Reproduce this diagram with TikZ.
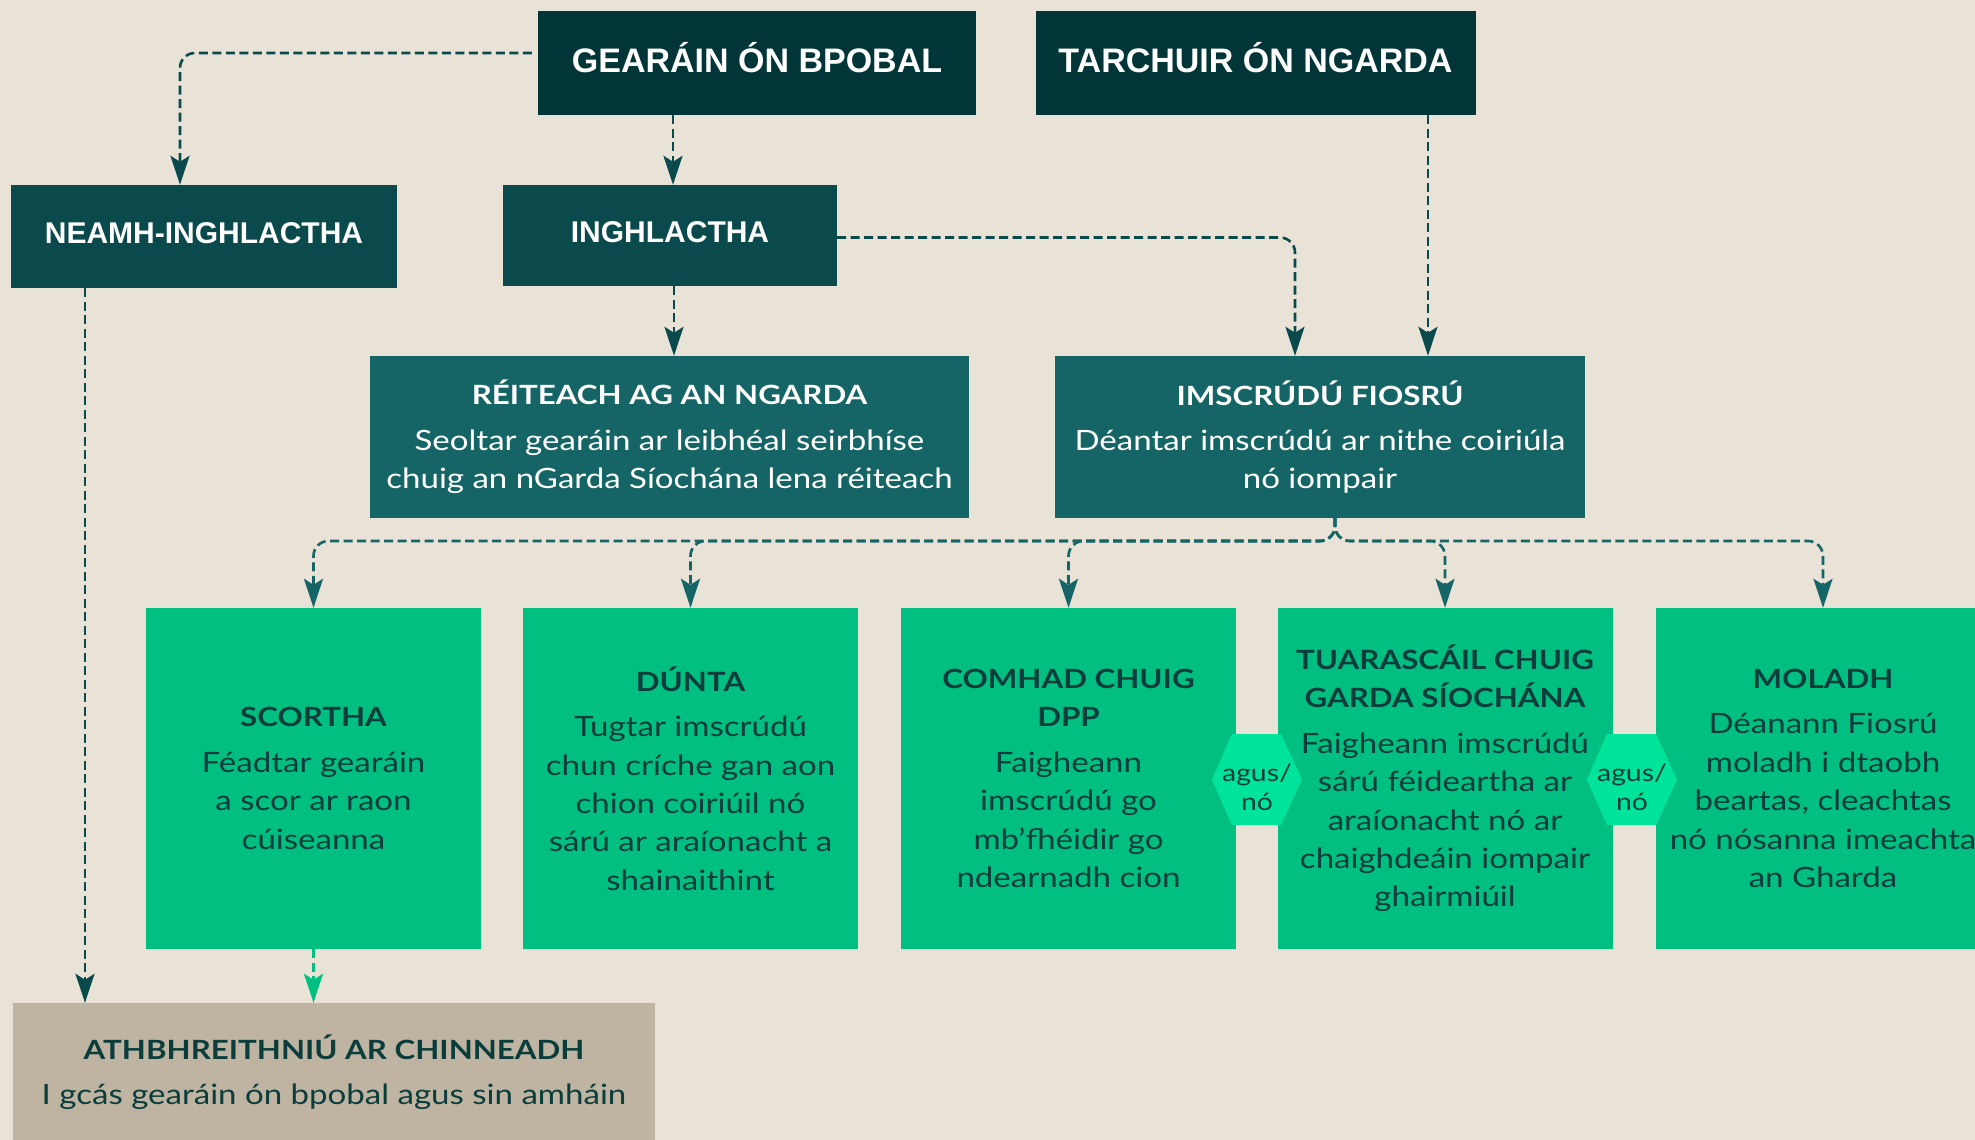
\documentclass[tikz,border=0pt]{standalone}
\usepackage{fontspec}
\setmainfont{Lato}[FakeStretch=1.18]
\newfontfamily\hfont{Liberation Sans}
\usetikzlibrary{arrows.meta}
\definecolor{bg}{HTML}{E8E2D7}
\definecolor{dkA}{HTML}{013538}
\definecolor{dkB}{HTML}{0A4A4C}
\definecolor{dkC}{HTML}{166566}
\definecolor{grn}{HTML}{00BF80}
\definecolor{hexg}{HTML}{00E39A}
\definecolor{tanbox}{HTML}{BFB4A2}
\definecolor{txtd}{HTML}{0A3D3B}
\newcommand\ttl[1]{{\fontsize{26.5}{38.4}\selectfont\bfseries #1}}
\tikzset{
  box/.style={inner sep=0pt, align=center},
  topbox/.style={box, fill=dkA, text=white, text height=24pt, text depth=5pt, font=\hfont\fontsize{34}{40}\selectfont\bfseries},
  midbox/.style={box, fill=dkB, text=white, text height=21.5pt, text depth=8pt, font=\hfont\fontsize{30}{38}\selectfont\bfseries},
  lowbox/.style={box, fill=dkC, text=white, font=\fontsize{28}{38.4}\selectfont},
  grnbox/.style={box, fill=grn, text=txtd, minimum width=335pt, minimum height=341pt, font=\fontsize{28}{38.4}\selectfont},
  hexlabel/.style={box, text=txtd, font=\fontsize{24}{29}\selectfont},
  conn/.style={draw=dkB, line width=2.6pt, dash pattern=on 9pt off 4.5pt, rounded corners=15pt,
    -{Stealth[length=29pt,width=19pt,inset=6pt]}},
  fan/.style={conn, draw=dkC, fill=none},
  grnconn/.style={conn, draw=grn},
}
\begin{document}
\begin{tikzpicture}[x=1pt,y=-1pt]
\useasboundingbox (0,0) rectangle (1975,1140);
\clip (0,0) rectangle (1975,1140);
\fill[bg] (0,0) rectangle (1975,1140);

% top row
\node[topbox, minimum width=438pt, minimum height=104pt] (gearain) at (757,63) {GEARÁIN ÓN BPOBAL};
\node[topbox, minimum width=440pt, minimum height=104pt] (tarchuir) at (1255.5,63) {TARCHUIR ÓN NGARDA};

% second row
\node[midbox, minimum width=386pt, minimum height=103pt] (neamh) at (204,236.5) {NEAMH-INGHLACTHA};
\node[midbox, minimum width=334pt, minimum height=101pt] (inghl) at (670,235.5) {INGHLACTHA};

% third row
\node[lowbox, minimum width=599pt, minimum height=162pt] (reiteach) at (669.5,437)
  {\ttl{RÉITEACH AG AN NGARDA}\\[7pt]Seoltar gearáin ar leibhéal seirbhíse\\chuig an nGarda Síochána lena réiteach};
\node[lowbox, minimum width=530pt, minimum height=162pt] (imscrudu) at (1320,437)
  {\ttl{IMSCRÚDÚ FIOSRÚ}\\[7pt]Déantar imscrúdú ar nithe coiriúla\\nó iompair};

% green row
\node[grnbox] (scortha) at (313.5,778.5)
  {\ttl{SCORTHA}\\[7pt]Féadtar gearáin\\a scor ar raon\\cúiseanna};
\node[grnbox] (dunta) at (690.5,778.5)
  {\ttl{DÚNTA}\\[7pt]Tugtar imscrúdú\\chun críche gan aon\\chion coiriúil nó\\sárú ar araíonacht a\\shainaithint};
\node[grnbox] (comhad) at (1068.5,778.5)
  {\ttl{COMHAD CHUIG}\\\ttl{DPP}\\[7pt]Faigheann\\imscrúdú go\\mb’fhéidir go\\ndearnadh cion};
\node[grnbox] (tuarascail) at (1445,778.5)
  {\ttl{TUARASCÁIL CHUIG}\\\ttl{GARDA SÍOCHÁNA}\\[7pt]Faigheann imscrúdú\\sárú féideartha ar\\araíonacht nó ar\\chaighdeáin iompair\\ghairmiúil};
\node[grnbox] (moladh) at (1823,778.5)
  {\ttl{MOLADH}\\[7pt]Déanann Fiosrú\\moladh i dtaobh\\beartas, cleachtas\\nó nósanna imeachta\\an Gharda};

% hexagons
\fill[hexg] (1212,779.5) -- (1232,734) -- (1281,734) -- (1302,779.5) -- (1281,825) -- (1232,825) -- cycle;
\node[hexlabel] (hexA) at (1257,787) {agus/\\nó};
\fill[hexg] (1587,779.5) -- (1607,734) -- (1656,734) -- (1677,779.5) -- (1656,825) -- (1607,825) -- cycle;
\node[hexlabel] (hexB) at (1632,787) {agus/\\nó};

% bottom
\node[box, fill=tanbox, text=txtd, minimum width=642pt, minimum height=138pt,
  font=\fontsize{28}{38.4}\selectfont] (ath) at (334,1072)
  {\ttl{ATHBHREITHNIÚ AR CHINNEADH}\\[7pt]I gcás gearáin ón bpobal agus sin amháin};

% connectors
\draw[conn, shorten <=6pt] ([yshift=10pt]gearain.west) -| ([xshift=-24pt]neamh.north);
\draw[conn] ([xshift=-84pt]gearain.south) -- ([xshift=3pt]inghl.north);
\draw[conn] ([xshift=4pt]inghl.south) -- ([xshift=4.5pt]reiteach.north);
\draw[conn] ([yshift=-2pt]inghl.east) -| ([xshift=-25pt]imscrudu.north);
\draw[conn] ([xshift=172.5pt]tarchuir.south) -- ([xshift=108pt]imscrudu.north);
\draw[conn] ([xshift=-119pt]neamh.south) -- ([xshift=-249pt]ath.north);
\draw[grnconn] (scortha.south) -- ([xshift=-20.5pt]ath.north);

\coordinate (fanY) at (0,541);
\coordinate (fanO) at (1335,518);
\foreach \t in {scortha,dunta,comhad,tuarascail,moladh}{
  \draw[fan] (fanO) |- (\t.north |- fanY) -- (\t.north);
}
\end{tikzpicture}
\end{document}
